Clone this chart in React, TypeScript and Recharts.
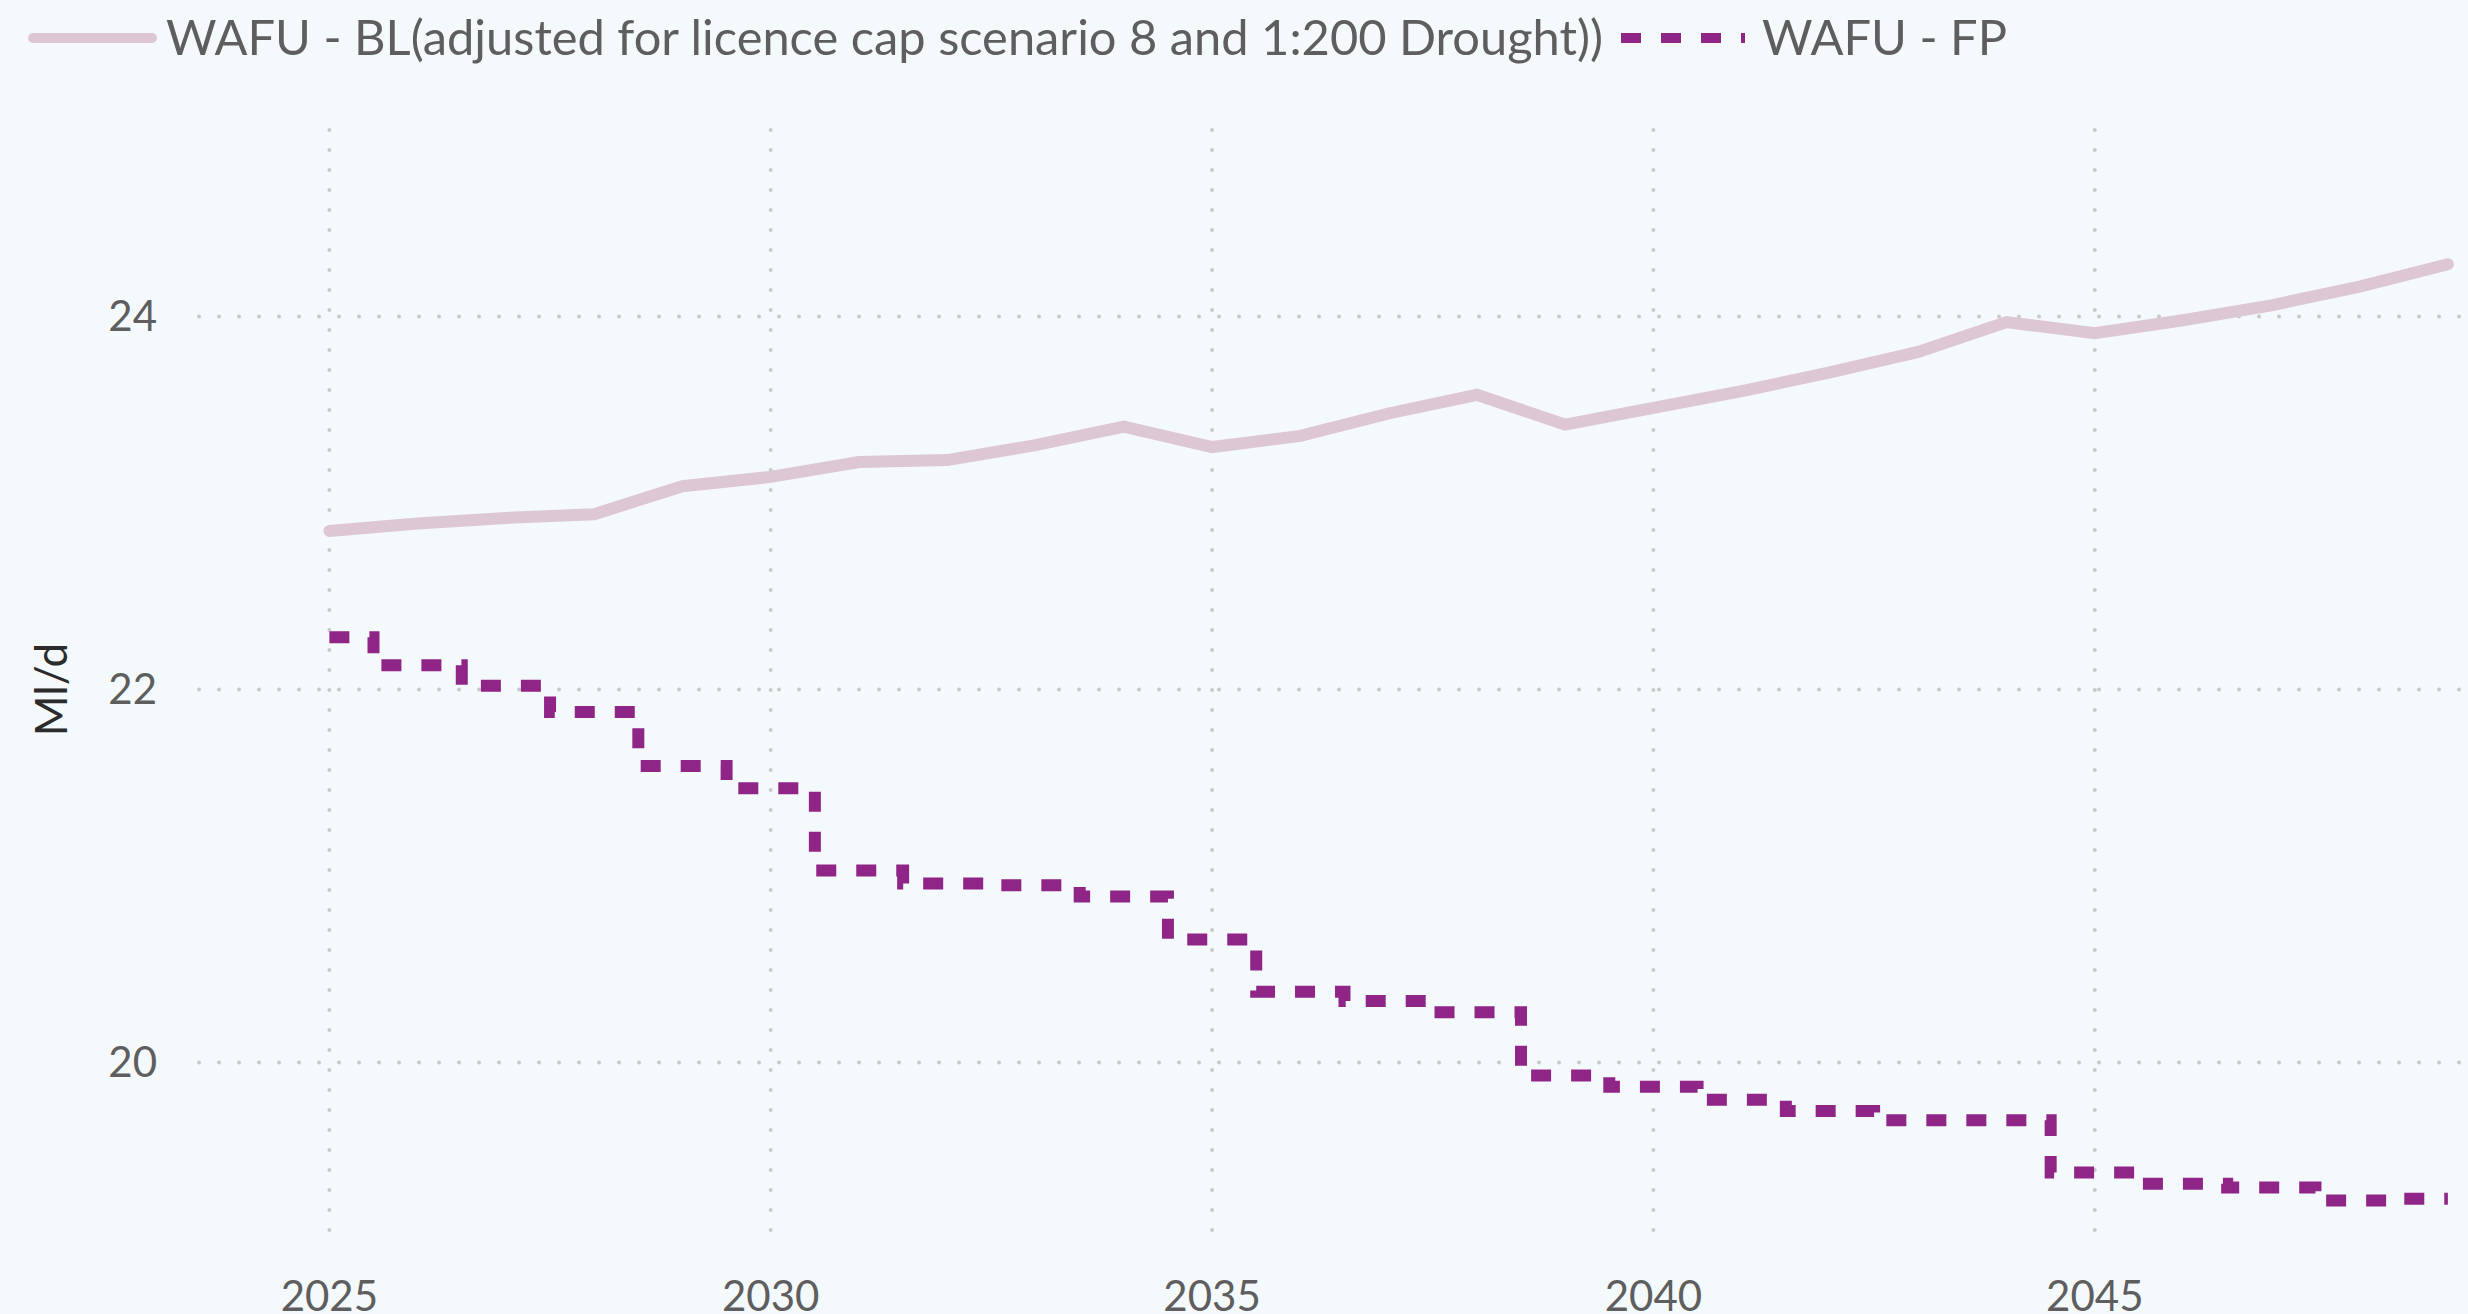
import { CartesianGrid, Legend, Line, LineChart, XAxis, YAxis } from "recharts";

const YEARS = [
  2025, 2026, 2027, 2028, 2029, 2030, 2031, 2032, 2033, 2034, 2035, 2036, 2037,
  2038, 2039, 2040, 2041, 2042, 2043, 2044, 2045, 2046, 2047, 2048, 2049,
];

// WAFU - BL (adjusted for licence cap scenario 8 and 1:200 Drought)
const BL = [
  22.85, 22.89, 22.92, 22.94, 23.09, 23.14, 23.22, 23.23, 23.31, 23.41, 23.3,
  23.36, 23.48, 23.58, 23.42, 23.51, 23.6, 23.7, 23.81, 23.97, 23.91, 23.98,
  24.06, 24.16, 24.28,
];

// WAFU - FP
const FP = [
  22.28, 22.13, 22.02, 21.88, 21.59, 21.47, 21.03, 20.96, 20.95, 20.89, 20.66,
  20.38, 20.33, 20.27, 19.93, 19.87, 19.8, 19.74, 19.69, 19.69, 19.41, 19.35,
  19.33, 19.26, 19.27,
];

const X_TICKS = [2025, 2030, 2035, 2040, 2045];
const Y_TICKS = [20, 22, 24];

const BL_NAME = "WAFU - BL(adjusted for licence cap scenario 8 and 1:200 Drought))";
const FP_NAME = "WAFU - FP";

const BL_COLOR = "#DCC7D2";
const FP_COLOR = "#8F2587";
const TEXT = "#5E5E5E";
const FONT = "Lato, 'Open Sans', sans-serif";

const data = YEARS.map((year, i) => ({ year, bl: BL[i], fp: FP[i] }));

function renderLegend(props: any) {
  const items = props.payload || [];
  return (
    <div
      style={{
        height: 130,
        display: "flex",
        alignItems: "center",
        paddingLeft: 28,
        boxSizing: "border-box",
        fontFamily: FONT,
        fontSize: 48.8,
        color: TEXT,
        lineHeight: "48px",
        paddingBottom: 58,
      }}
    >
      {items.map((entry: any, i: number) => {
        const dashed = entry.dataKey === "fp";
        return (
          <div
            key={i}
            style={{ display: "flex", alignItems: "center", marginLeft: i === 0 ? 0 : 18 }}
          >
            <svg width={dashed ? 124 : 129} height={14} style={{ position: "relative", top: 2 }}>
              {dashed ? (
                <line x1={0} y1={7} x2={124} y2={7} stroke={FP_COLOR} strokeWidth={10} strokeDasharray="20 20" />
              ) : (
                <line x1={5} y1={7} x2={124} y2={7} stroke={BL_COLOR} strokeWidth={10} strokeLinecap="round" />
              )}
            </svg>
            <span style={{ marginLeft: dashed ? 17 : 9, whiteSpace: "nowrap" }}>{entry.value}</span>
          </div>
        );
      })}
    </div>
  );
}

export default function App() {
  return (
    <div
      style={{
        position: "absolute",
        left: 0,
        top: 0,
        width: 2468,
        height: 1314,
        background: "#F4F9FC",
        overflow: "hidden",
      }}
    >
      <LineChart width={2468} height={1314} data={data} margin={{ top: 0, right: 0, bottom: 0, left: 0 }}>
        <Legend verticalAlign="top" align="left" content={renderLegend} wrapperStyle={{ left: 0, top: 0 }} />
        <CartesianGrid
          syncWithTicks
          stroke="#C9C9C9"
          strokeWidth={4}
          strokeDasharray="0 20"
          strokeLinecap="round"
        />
        <XAxis
          dataKey="year"
          type="number"
          domain={[2023.523, 2049.228]}
          allowDataOverflow
          ticks={X_TICKS}
          interval={0}
          height={65}
          axisLine={false}
          tickLine={false}
          tickSize={0}
          tickMargin={32}
          tick={{ fill: TEXT, fontSize: 42, fontFamily: FONT }}
        />
        <YAxis
          type="number"
          domain={[19, 25]}
          allowDataOverflow
          ticks={Y_TICKS}
          interval={0}
          width={199}
          axisLine={false}
          tickLine={false}
          tickSize={0}
          tickMargin={42}
          tick={{ fill: TEXT, fontSize: 42, fontFamily: FONT }}
          label={{
            content: (p: any) => {
              const vb = p.viewBox || { x: 0, y: 130, width: 199, height: 1119 };
              const x = vb.x + 67;
              const y = vb.y + vb.height / 2;
              return (
                <text
                  x={x}
                  y={y}
                  transform={`rotate(-90, ${x}, ${y})`}
                  textAnchor="middle"
                  fill="#2B2B2B"
                  fontSize={44}
                  fontFamily={FONT}
                >
                  Ml/d
                </text>
              );
            },
          }}
        />
        <Line
          dataKey="bl"
          name={BL_NAME}
          type="linear"
          stroke={BL_COLOR}
          strokeWidth={12}
          strokeLinecap="round"
          dot={false}
          activeDot={false}
          isAnimationActive={false}
        />
        <Line
          dataKey="fp"
          name={FP_NAME}
          type="step"
          stroke={FP_COLOR}
          strokeWidth={12}
          strokeDasharray="20 20"
          dot={false}
          activeDot={false}
          isAnimationActive={false}
        />
      </LineChart>
    </div>
  );
}
